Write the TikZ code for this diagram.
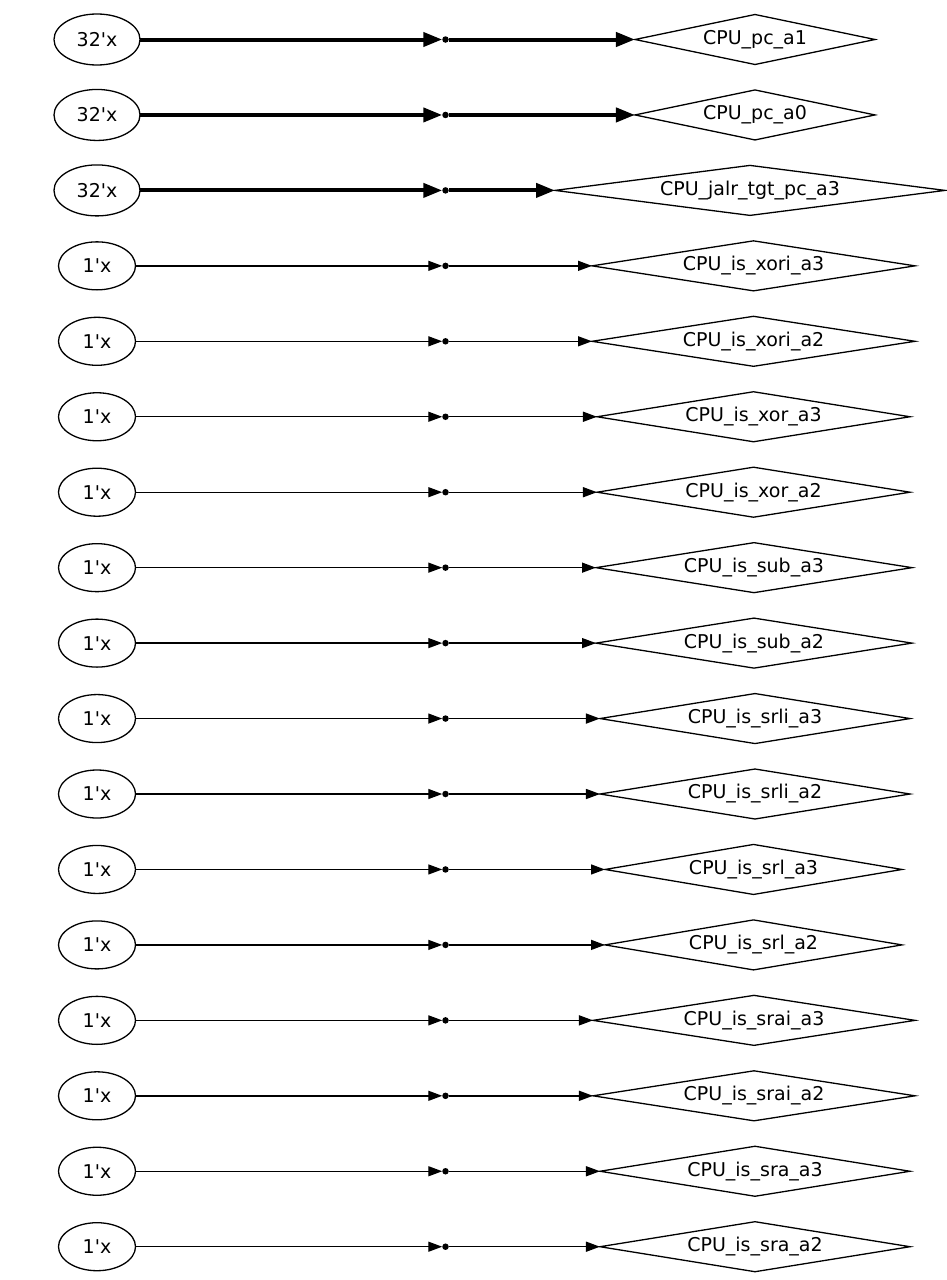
\documentclass[tikz,border=0pt]{standalone}
\usepackage{fontspec}
\setmainfont{DejaVu Sans}
\usetikzlibrary{shapes.geometric,arrows.meta}
\tikzset{
  bigoval/.style={ellipse, draw, line width=1.3pt, inner sep=0pt, outer sep=0pt, minimum width=86pt, minimum height=51pt, font=\fontsize{19}{22}\selectfont},
  smalloval/.style={ellipse, draw, line width=1.3pt, inner sep=0pt, outer sep=0pt, minimum width=77pt, minimum height=48pt, font=\fontsize{19}{22}\selectfont},
  dotpt/.style={circle, fill=black, inner sep=0pt, outer sep=0pt, minimum size=6.5pt},
  dia/.style={diamond, draw, line width=1.3pt, inner sep=0pt, outer sep=0pt, minimum height=50pt, aspect=6.5, font=\fontsize{19}{22}\selectfont},
  thickwire/.style={line width=4pt, -{Triangle[length=19pt,width=14pt]}},
  thinwire/.style={line width=1.4pt, -{Triangle[length=14pt,width=10pt]}}
}
\begin{document}
\begin{tikzpicture}[x=1pt,y=-1pt]
\useasboundingbox (0,0) rectangle (946,1280);
\foreach \i/\bits/\es/\lab/\w/\cx/\wire in {
 0/32/bigoval/CPU\_pc\_a1/240/755/thickwire,
 1/32/bigoval/CPU\_pc\_a0/240/755/thickwire,
 2/32/bigoval/CPU\_jalr\_tgt\_pc\_a3/390/750/thickwire,
 3/1/smalloval/CPU\_is\_xori\_a3/323/753.5/thinwire,
 4/1/smalloval/CPU\_is\_xori\_a2/323/753.5/thinwire,
 5/1/smalloval/CPU\_is\_xor\_a3/313/753.5/thinwire,
 6/1/smalloval/CPU\_is\_xor\_a2/313/753.5/thinwire,
 7/1/smalloval/CPU\_is\_sub\_a3/316/754/thinwire,
 8/1/smalloval/CPU\_is\_sub\_a2/316/754/thinwire,
 9/1/smalloval/CPU\_is\_srli\_a3/310/755/thinwire,
 10/1/smalloval/CPU\_is\_srli\_a2/310/755/thinwire,
 11/1/smalloval/CPU\_is\_srl\_a3/297/753.5/thinwire,
 12/1/smalloval/CPU\_is\_srl\_a2/297/753.5/thinwire,
 13/1/smalloval/CPU\_is\_srai\_a3/322/754/thinwire,
 14/1/smalloval/CPU\_is\_srai\_a2/322/754/thinwire,
 15/1/smalloval/CPU\_is\_sra\_a3/310/755/thinwire,
 16/1/smalloval/CPU\_is\_sra\_a2/310/755/thinwire}
{
  \pgfmathsetmacro\yy{39.5+75.45*\i}
  \node[\es] (e\i) at (97,\yy) {\bits\textquotesingle x};
  \node[dotpt] (p\i) at (445.5,\yy) {};
  \node[dia, minimum width=\w pt] (d\i) at (\cx,\yy) {\lab};
  \draw[\wire] (e\i) -- (p\i);
  \draw[\wire] (p\i) -- (d\i);
}
\end{tikzpicture}
\end{document}
